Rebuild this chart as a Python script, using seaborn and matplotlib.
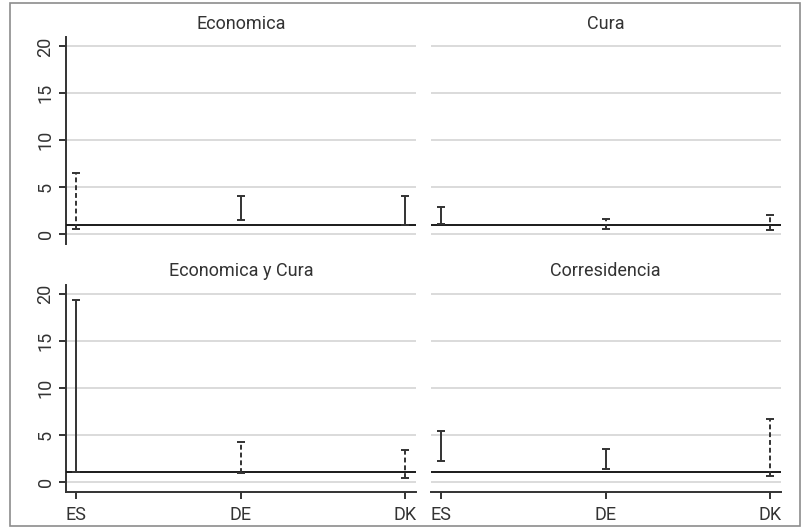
import pandas as pd
import seaborn as sns
import matplotlib.pyplot as plt
from matplotlib.patches import Rectangle

paises = ['ES', 'DE', 'DK']
tipos = ['Economica', 'Cura', 'Economica y Cura', 'Corresidencia']

# lower / upper bound of each interval, per country
lo_econ = [0.6, 1.5, 0.95]
hi_econ = [6.5, 4.05, 4.05]
dash_econ = [True, False, False]

lo_cura = [1.05, 0.6, 0.45]
hi_cura = [2.9, 1.6, 2.0]
dash_cura = [False, True, True]

lo_eyc = [1.0, 0.95, 0.4]
hi_eyc = [19.35, 4.2, 3.35]
dash_eyc = [False, True, True]

lo_corr = [2.15, 1.4, 0.6]
hi_corr = [5.4, 3.5, 6.7]
dash_corr = [False, False, True]

df = pd.DataFrame({
    'tipo': [t for t in tipos for _ in paises],
    'pais': paises * 4,
    'lo': lo_econ + lo_cura + lo_eyc + lo_corr,
    'hi': hi_econ + hi_cura + hi_eyc + hi_corr,
    'dashed': dash_econ + dash_cura + dash_eyc + dash_corr,
})
df['x'] = df['pais'].map({p: i for i, p in enumerate(paises)})

sns.set_style('white')
plt.rcParams['font.family'] = ['Roboto', 'DejaVu Sans']
dark = '#333333'


def intervalo(data, **kws):
    ax = plt.gca()
    ax.axhline(1, color='#1a1a1a', lw=1.4, zorder=3)
    for _, r in data.iterrows():
        eb = ax.errorbar(r['x'], r['lo'], yerr=[[0], [r['hi'] - r['lo']]], fmt='none',
                         ecolor=dark, elinewidth=1.4, capsize=3, capthick=1.4, zorder=4)
        if r['dashed']:
            eb.lines[2][0].set_linestyle((0, (2.5, 1.5)))


g = sns.FacetGrid(df, col='tipo', col_wrap=2, col_order=tipos, sharex=True, sharey=True,
                  height=2.6, aspect=1.5, despine=False)
g.map_dataframe(intervalo)
g.set_axis_labels('', '')
g.set_titles('{col_name}', size=13, pad=6, color=dark)

for i, ax in enumerate(g.axes.flat):
    ax.set_xlim(-0.065, 2.065)
    ax.set_ylim(-1.1, 21)
    ax.set_yticks([0, 5, 10, 15, 20])
    ax.set_xticks([0, 1, 2])
    ax.set_xticklabels(paises)
    ax.grid(axis='y', color='#dadada', lw=1.4)
    ax.set_axisbelow(True)
    for s in ['top', 'right']:
        ax.spines[s].set_visible(False)
    for s in ['left', 'bottom']:
        ax.spines[s].set_color(dark)
        ax.spines[s].set_linewidth(1.4)
    ax.tick_params(axis='both', colors=dark, labelcolor=dark, labelsize=13,
                   length=5, width=1.4, direction='out', left=True, bottom=True)
    ax.tick_params(axis='y', labelrotation=90, pad=3)
    ax.tick_params(axis='x', pad=5)
    for lab in ax.get_yticklabels():
        lab.set_va('center')
    if i % 2 == 1:
        ax.spines['left'].set_visible(False)
        ax.tick_params(axis='y', left=False, labelleft=False)
    if i < 2:
        ax.spines['bottom'].set_visible(False)
        ax.tick_params(axis='x', bottom=False, labelbottom=False)

fig = g.figure
fig.set_size_inches(8.07, 5.29)
fig.subplots_adjust(left=0.0814, right=0.9678, bottom=0.070, top=0.930,
                    wspace=0.041, hspace=0.193)
fig.add_artist(Rectangle((10 / 807, 3 / 529), 790 / 807, 523 / 529, transform=fig.transFigure,
                         fill=False, ec='#8c8c8c', lw=1.2))

plt.savefig('out.png', dpi=100)
